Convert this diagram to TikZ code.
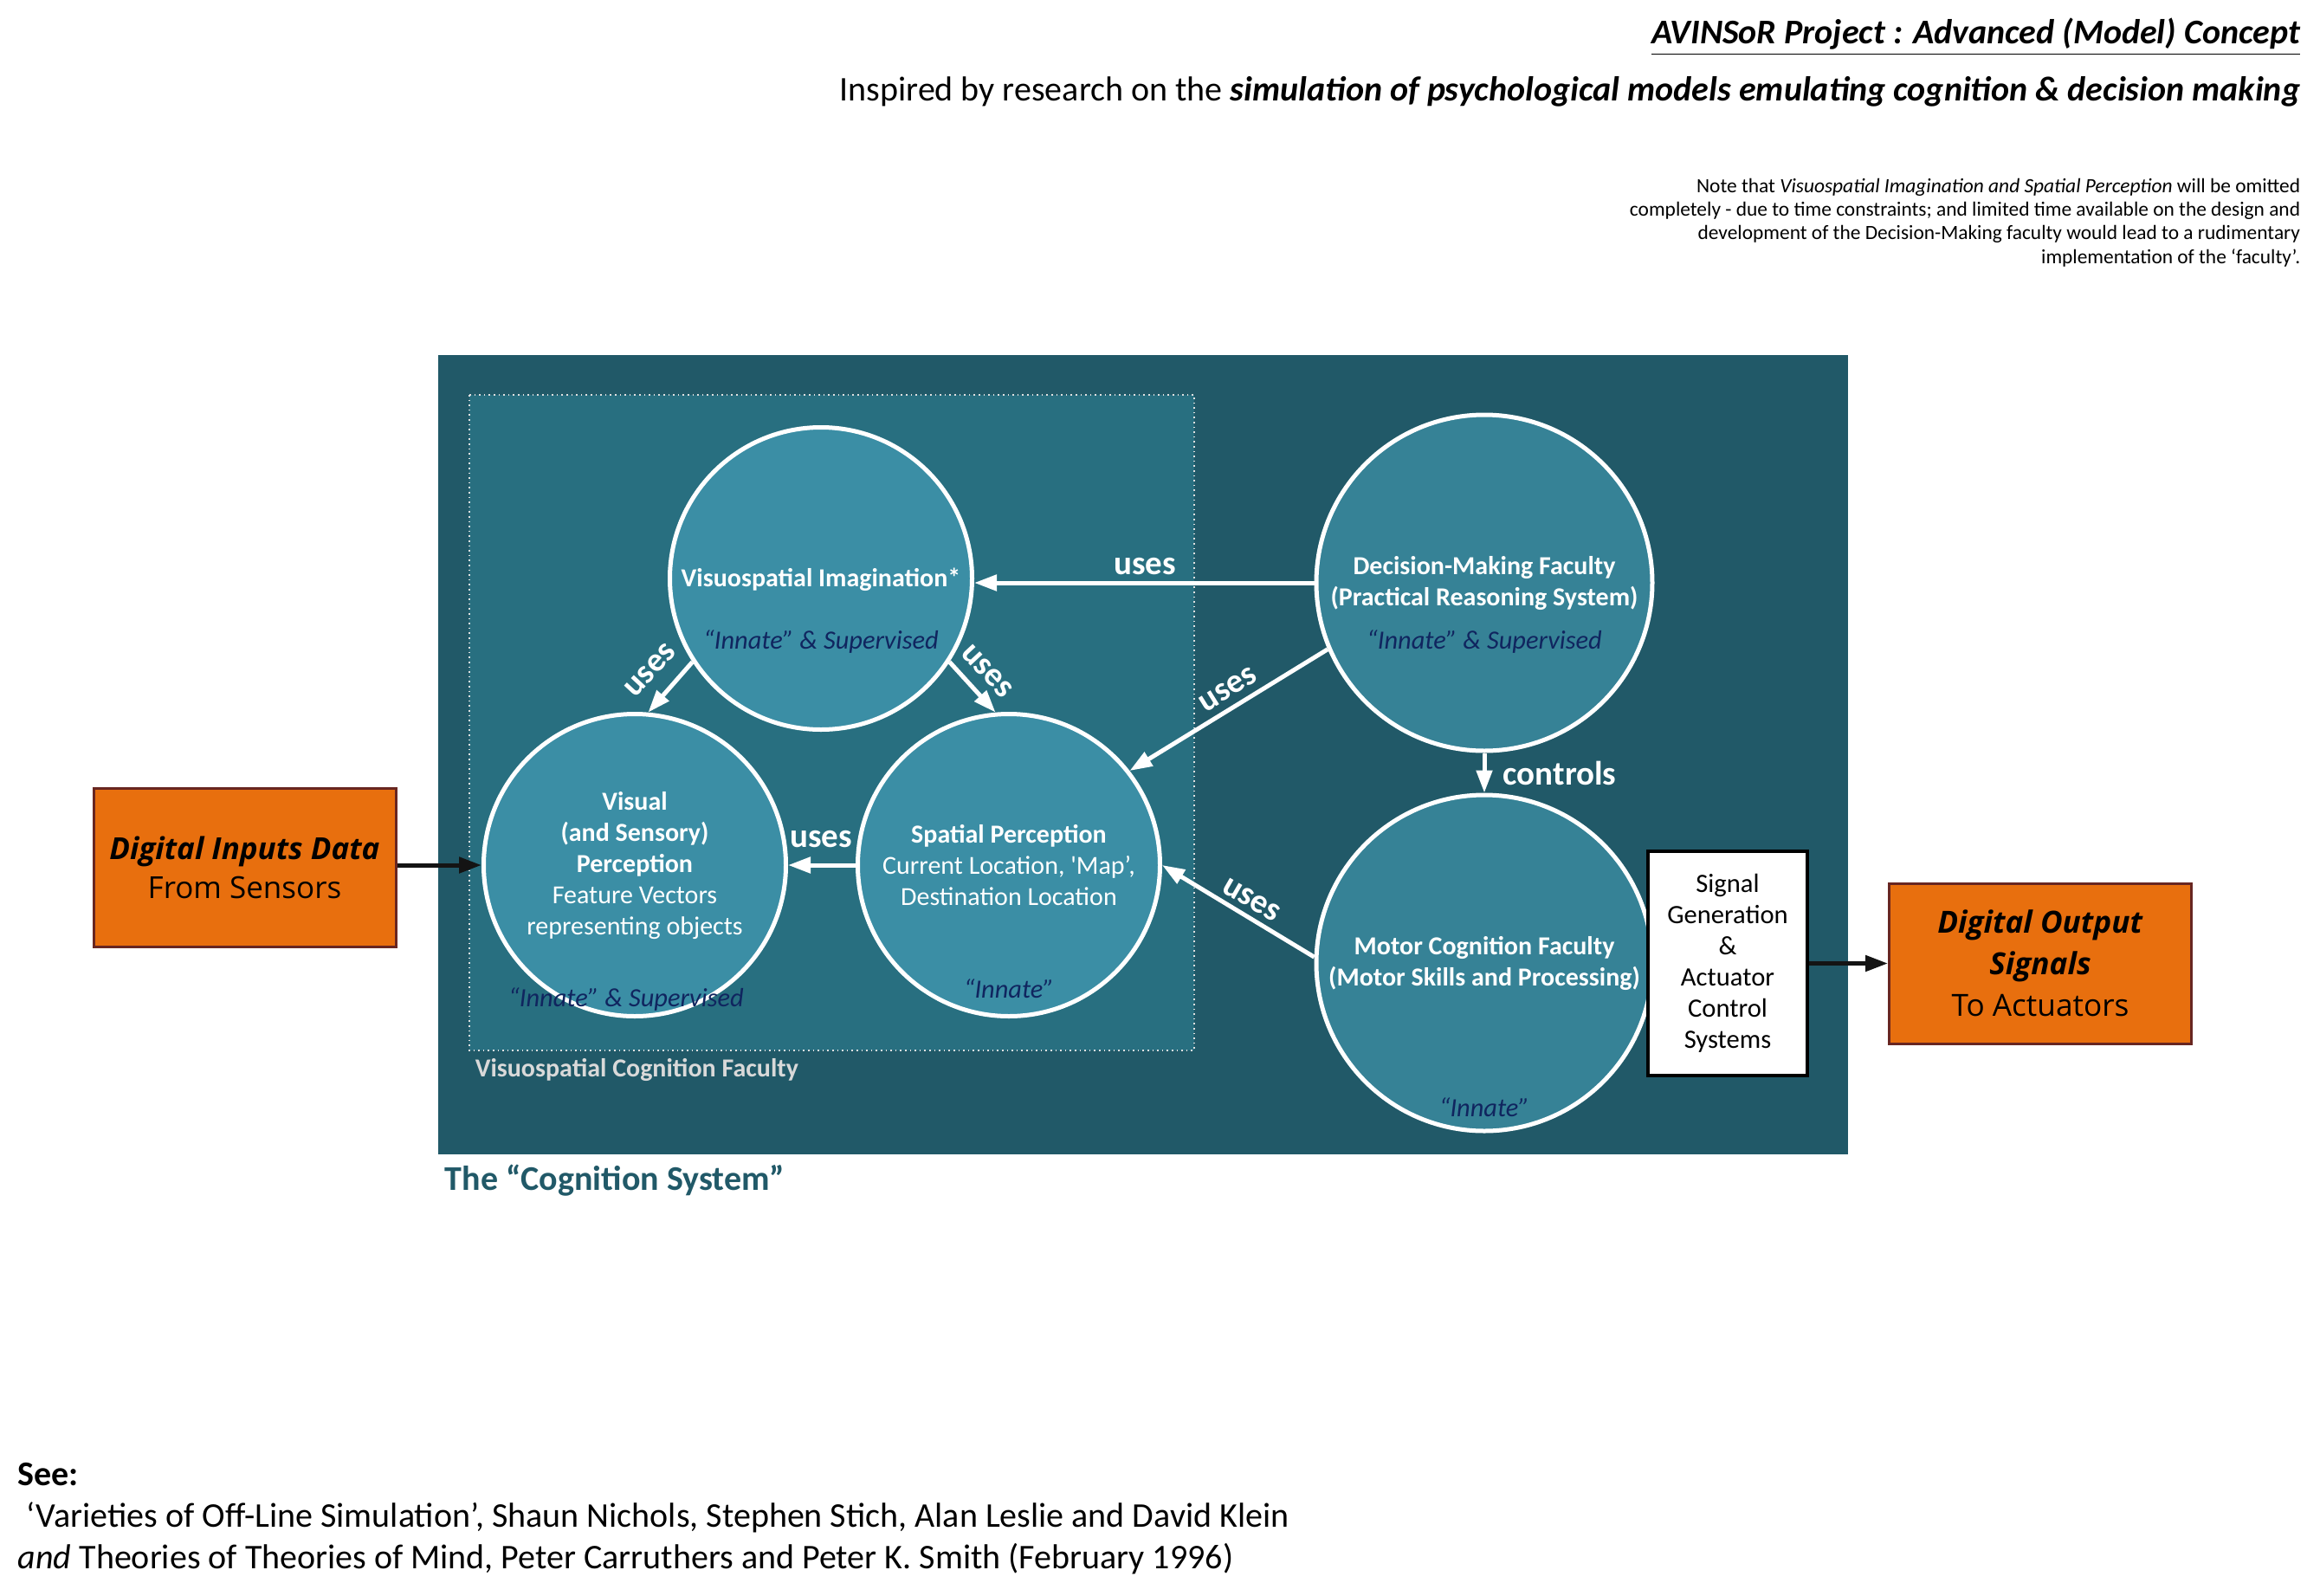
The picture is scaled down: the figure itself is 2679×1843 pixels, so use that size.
\documentclass[tikz,border=0pt]{standalone}
\usepackage{fontspec}
\setmainfont{Carlito}
\newfontfamily\segoe{Open Sans}
\usetikzlibrary{arrows.meta}
\definecolor{outerteal}{RGB}{33,89,104}
\definecolor{innerteal}{RGB}{40,111,128}
\definecolor{circlight}{RGB}{59,142,165}
\definecolor{circdark}{RGB}{54,130,150}
\definecolor{navytxt}{RGB}{16,37,95}
\definecolor{orng}{RGB}{232,111,14}
\definecolor{obrd}{RGB}{104,38,33}
\definecolor{lgray}{RGB}{217,217,217}
\begin{document}
\begin{tikzpicture}[x=0.25pt,y=-0.25pt,
  circA/.style={circle, draw=white, line width=1.25pt, fill=circlight, minimum size=87.25pt, inner sep=0pt},
  circB/.style={circA, fill=circdark, minimum size=97pt},
  ctext/.style={text=white, font=\fontsize{7.5pt}{9pt}\selectfont, align=center, inner sep=0pt},
  innate/.style={text=navytxt, font=\fontsize{7.6pt}{9pt}\selectfont\itshape, inner sep=0pt},
  uses/.style={text=white, font=\fontsize{9.75pt}{11pt}\selectfont\bfseries, inner sep=0pt},
  warrow/.style={draw=white, line width=1.25pt, -{Triangle[length=6.5pt,width=4.5pt]}},
  barrow/.style={draw=black!92, line width=1.25pt, -{Triangle[length=6.5pt,width=4.5pt]}},
  obox/.style={rectangle, draw=obrd, line width=0.75pt, fill=orng, minimum width=87.25pt, minimum height=45.75pt, align=center, inner sep=0pt}
]
\useasboundingbox (0,0) rectangle (2679,1843);

% header
\node[anchor=base east, inner sep=0pt, font=\fontsize{10pt}{12pt}\selectfont] (title) at (2657,50)
  {\underline{\textbf{\textit{AVINSoR Project : Advanced (Model) Concept}}}};
\node[anchor=base east, inner sep=0pt, font=\fontsize{10pt}{12pt}\selectfont] (subtitle) at (2657,116)
  {Inspired by research on the \textbf{\textit{simulation of psychological models emulating cognition \& decision making}}};
\node[anchor=base east, inner sep=0pt, align=right, font=\fontsize{5.85pt}{6.83pt}\selectfont] (note) at (2657,304)
  {Note that \textit{Visuospatial Imagination and Spatial Perception} will be omitted\\
   completely - due to time constraints; and limited time available on the design and\\
   development of the Decision-Making faculty would lead to a rudimentary\\
   implementation of the ‘faculty’.};

% system boxes
\fill[outerteal] (506,410) rectangle (2134,1333);
\filldraw[fill=innerteal, draw=lgray!80, densely dotted, line width=0.4pt] (542,456) rectangle (1379,1213);
\node[anchor=west, inner sep=0pt, text=lgray, font=\fontsize{7.5pt}{9pt}\selectfont\bfseries] (vcf) at (548,1235) {Visuospatial Cognition Faculty};
\node[anchor=west, inner sep=0pt, text=outerteal, font=\fontsize{10pt}{12pt}\selectfont\bfseries] (cogsys) at (513,1363) {The “Cognition System”};

% circles
\node[circA] (VI) at (948,668) {};
\node[circA] (VP) at (733,999) {};
\node[circA] (SP) at (1165,999) {};
\node[circB] (DM) at (1714,673) {};
\node[circB] (MC) at (1714,1112) {};

% circle texts
\node[ctext] (VIt) at (948,669) {\textbf{Visuospatial Imagination*}};
\node[innate] (VIi) at (948,741) {“Innate” \& Supervised};
\node[ctext] (VPt) at (733,1000) {\textbf{Visual}\\\textbf{(and Sensory)}\\\textbf{Perception}\\Feature Vectors\\representing objects};
\node[innate] (VPi) at (723,1154) {“Innate” \& Supervised};
\node[ctext] (SPt) at (1165,999) {\textbf{Spatial Perception}\\Current Location, \textquotesingle Map’,\\Destination Location};
\node[innate] (SPi) at (1165,1142) {“Innate”};
\node[ctext] (DMt) at (1714,674) {\textbf{Decision-Making Faculty}\\\textbf{(Practical Reasoning System)}};
\node[innate] (DMi) at (1714,741) {“Innate” \& Supervised};
\node[ctext] (MCt) at (1714,1112) {\textbf{Motor Cognition Faculty}\\\textbf{(Motor Skills and Processing)}};
\node[innate] (MCi) at (1714,1279) {“Innate”};

% signal box
\node[rectangle, draw=black, line width=1pt, fill=white, minimum width=46pt, minimum height=64.75pt, inner sep=0pt, align=center,
  font=\fontsize{7.65pt}{9pt}\selectfont] (SG) at (1995,1112.5)
  {Signal\\Generation\\\&\\Actuator\\Control\\Systems};

% orange boxes
\node[obox, font=\segoe\fontsize{8.75pt}{11.25pt}\selectfont] (IN) at (282.5,1001.5)
  {\textbf{\textit{Digital Inputs Data}}\\From Sensors};
\node[obox, minimum height=46.25pt, font=\segoe\fontsize{8.8pt}{12pt}\selectfont] (OUT) at (2356,1112.5)
  {\textbf{\textit{Digital Output}}\\\textbf{\textit{Signals}}\\To Actuators};

% connectors
\draw[warrow] (DM.west) -- (DM.west -| VI.east);
\draw[warrow] (VI.213) -- (VP.85);
\draw[warrow] (VI.-33) -- (SP.95);
\draw[warrow] (DM.203) -- (SP.38);
\draw[warrow] (MC.178) -- (SP.0);
\draw[warrow] (SP) -- (VP);
\draw[warrow] (DM.south) -- (MC.north);
\draw[barrow] (IN.east |- VP.west) -- (VP.west);
\draw[barrow] (SG.east) -- (OUT.west);

% connector labels
\node[uses] (u1) at (1322,654) {uses};
\node[uses, rotate=47] (u2) at (751,774) {uses};
\node[uses, rotate=-47] (u3) at (1140,775) {uses};
\node[uses, rotate=32] (u4) at (1418,796) {uses};
\node[uses, rotate=-30] (u5) at (1445,1039) {uses};
\node[uses] (u6) at (948,969) {uses};
\node[uses, anchor=west] (ctl) at (1735,893) {controls};

% references
\node[anchor=base west, inner sep=0pt, align=left, font=\fontsize{10pt}{12pt}\selectfont] (refs) at (20,1811)
  {\textbf{See:}\\
   \hspace{2.5pt}‘Varieties of Off-Line Simulation’, Shaun Nichols, Stephen Stich, Alan Leslie and David Klein\\
   \textit{and} Theories of Theories of Mind, Peter Carruthers and Peter K. Smith (February 1996)};
\end{tikzpicture}
\end{document}
